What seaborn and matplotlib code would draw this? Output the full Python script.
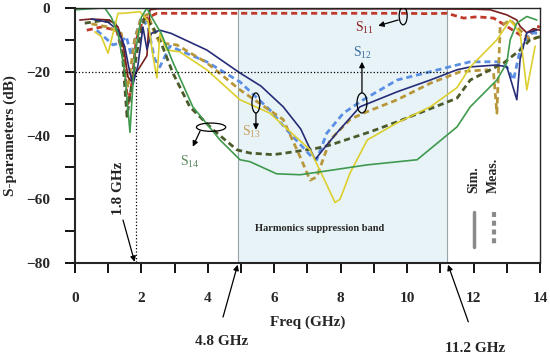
import numpy as np
import pandas as pd
import seaborn as sns
import matplotlib.pyplot as plt
from matplotlib.patches import Ellipse

# Data (frequency in GHz, magnitude in dB)
s11_sim_f = [0.15, 0.5, 1.05, 1.3, 1.45, 1.6, 1.7, 1.8, 1.96, 2.17, 2.26, 2.5, 4, 6, 8, 10, 12, 12.5, 13.0, 13.3, 13.4, 13.6, 13.8, 14.0]
s11_sim_db = [-3.8, -3.5, -3.8, -6, -11, -21.6, -23, -21, -18.5, -15, -0.6, -0.3, -0.3, -0.3, -0.3, -0.3, -0.4, -0.6, -2.2, -3.8, -5.8, -7.8, -6.5, -7]
s11_meas_f = [0.36, 0.8, 1.26, 1.45, 1.6, 1.7, 1.85, 2.05, 2.47, 4, 6, 8, 10, 10.5, 11.2, 11.7, 12.1, 12.6, 13.0, 13.3, 13.6, 13.9, 14.0]
s11_meas_db = [-7, -6, -7, -15, -30, -25, -10, -3.8, -1.7, -1.7, -1.7, -1.7, -1.7, -1.8, -1.7, -3.2, -2.8, -3.2, -5.8, -7.8, -10, -5.8, -6]

s12_sim_f = [0.5, 1.0, 1.3, 1.5, 1.65, 1.75, 1.9, 2.05, 2.17, 2.3, 2.56, 2.9, 3.97, 4.97, 5.6, 6.27, 6.8, 7.23, 7.5, 7.9, 8.58, 9.7, 10.7, 11.5, 11.9, 12.7, 13.0, 13.3, 13.4, 13.6, 13.9]
s12_sim_db = [-3.5, -4.5, -7, -12, -20, -24, -18, -6, -13, -8, -7, -8, -13.2, -20.4, -24.5, -31, -38, -47.6, -44, -39, -31, -26.3, -22.6, -19.4, -18.5, -17.9, -18.5, -28.8, -16, -7.8, -7]
s12_meas_f = [0.66, 1.15, 1.36, 1.55, 1.7, 1.85, 2.0, 2.2, 2.4, 2.56, 2.86, 3.97, 4.97, 5.87, 6.47, 7.13, 7.28, 7.58, 8.08, 8.68, 9.7, 10.7, 11.5, 11.9, 12.7, 13.0, 13.2, 13.4, 13.7, 14.0]
s12_meas_db = [-7, -11.6, -11, -9, -15, -8, -3, -6, -16, -18.5, -12, -16.9, -23.2, -32, -39.3, -46.7, -47.6, -39.3, -33, -28.8, -22.6, -20, -17.9, -16.9, -16.9, -18.5, -22.6, -13, -7.8, -8]

s13_sim_f = [0.6, 0.8, 1.0, 1.15, 1.3, 1.45, 1.96, 2.2, 2.35, 2.47, 2.56, 2.77, 3.16, 3.97, 4.97, 5.87, 7.08, 7.47, 7.83, 7.98, 8.28, 8.8, 9.7, 10.7, 11.5, 11.9, 12.7, 13.1, 13.4, 13.6, 13.85]
s13_sim_db = [-7.5, -9, -14.2, -8, -1.7, -1.7, -1.2, -4, -15, -22, -8, -13.2, -13.8, -19.4, -28.8, -33, -44.5, -53, -61, -60, -51.8, -41.4, -36, -31, -25, -18.5, -10, -3.8, -8, -25.7, -12]
s13_meas_f = [0.5, 1.0, 1.4, 1.6, 1.8, 2.0, 2.2, 2.4, 2.56, 3.07, 3.97, 4.97, 6.27, 6.78, 7.08, 7.28, 7.68, 8.28, 8.68, 9.7, 10.7, 11.6, 12.4, 12.6, 12.7, 12.8, 13.1, 13.4, 13.7, 14.0]
s13_meas_db = [-5, -6, -8, -25, -10, -3, -2, -8, -11, -11.6, -17.2, -25.7, -35, -46.7, -54, -53, -41.4, -35, -33, -28.8, -23.6, -20, -19.4, -20.4, -33, -5.8, -3.8, -7, -10, -9]

s14_sim_f = [0, 0.9, 1.1, 1.3, 1.5, 1.66, 1.8, 2.0, 2.17, 2.26, 2.6, 2.95, 3.55, 4.37, 4.97, 5.27, 6.07, 6.78, 7.77, 8.8, 10.3, 11.5, 11.9, 12.7, 13.0, 13.1, 13.3, 13.6, 13.9]
s14_sim_db = [-0.6, 0, -3, -8, -20, -39, -15, -3, 0, -2, -8, -17, -31, -41.4, -47.6, -48.2, -52, -52.3, -50.8, -49.2, -47.6, -37.3, -31, -22.6, -17.2, -10, -4.8, -2.7, -3.8]
s14_meas_f = [0.3, 0.8, 1.2, 1.4, 1.57, 1.7, 1.9, 2.1, 2.35, 2.56, 2.95, 3.46, 4.16, 4.88, 5.27, 5.96, 6.27, 7.28, 7.68, 8.9, 9.7, 11.5, 11.9, 12.9, 13.4, 13.7, 14.0]
s14_meas_db = [-4.8, -4, -4.5, -10, -34, -25, -12, -3, -6, -10, -20.4, -31, -38.2, -44.5, -45.5, -46, -45.6, -44, -43, -38.8, -35.7, -28.3, -22.6, -17.3, -13.2, -10, -9]

sim = pd.concat([
    pd.DataFrame({'freq': s11_sim_f, 'db': s11_sim_db, 'curve': 'S11'}),
    pd.DataFrame({'freq': s12_sim_f, 'db': s12_sim_db, 'curve': 'S12'}),
    pd.DataFrame({'freq': s13_sim_f, 'db': s13_sim_db, 'curve': 'S13'}),
    pd.DataFrame({'freq': s14_sim_f, 'db': s14_sim_db, 'curve': 'S14'}),
])
meas = pd.concat([
    pd.DataFrame({'freq': s11_meas_f, 'db': s11_meas_db, 'curve': 'S11'}),
    pd.DataFrame({'freq': s12_meas_f, 'db': s12_meas_db, 'curve': 'S12'}),
    pd.DataFrame({'freq': s13_meas_f, 'db': s13_meas_db, 'curve': 'S13'}),
    pd.DataFrame({'freq': s14_meas_f, 'db': s14_meas_db, 'curve': 'S14'}),
])

sim_colors = {'S11': '#7a1f1f', 'S12': '#262c78', 'S13': '#dccf2e', 'S14': '#3f9a4e'}
meas_colors = {'S11': '#c0392b', 'S12': '#5b8fe3', 'S13': '#b8963a', 'S14': '#4b5a2a'}

sns.set_style('ticks')
plt.rcParams['font.family'] = ['Liberation Serif', 'DejaVu Serif']
plt.rcParams['mathtext.default'] = 'regular'

fig, ax = plt.subplots(figsize=(5.5, 3.58), dpi=100)
fig.subplots_adjust(left=0.136, right=0.982, bottom=0.265, top=0.978)

# harmonics suppression band
ax.axvspan(4.9, 11.2, color='#e8f3f8', zorder=0)
ax.axvline(4.9, color='#9aa4a6', lw=0.8, zorder=0.5)
ax.axvline(11.2, color='#9aa4a6', lw=0.8, zorder=0.5)

sns.lineplot(data=meas, x='freq', y='db', hue='curve', palette=meas_colors,
             sort=False, estimator=None, legend=False, lw=2.0,
             linestyle=(0, (2.2, 1.4)), ax=ax)
sns.lineplot(data=sim, x='freq', y='db', hue='curve', palette=sim_colors,
             sort=False, estimator=None, legend=False, lw=1.2, ax=ax)

# guide lines
ax.plot([0, 11.2], [-20, -20], color='black', lw=0.9, ls=':')
ax.plot([1.85, 1.85], [-20, -80], color='black', lw=0.9, ls=':')

ax.set_xlim(0, 14)
ax.set_ylim(-80, 0)
ax.set_xticks(range(0, 15, 2))
ax.set_xticks(range(1, 15, 2), minor=True)
ax.set_yticks(range(-80, 1, 20))
ax.set_yticks(range(-70, 0, 20), minor=True)
ax.tick_params(which='both', direction='out', length=7, width=1.3, color='black')
ax.tick_params(axis='x', pad=14, labelsize=11)
ax.tick_params(axis='y', pad=11, labelsize=11)
for lab in ax.get_xticklabels() + ax.get_yticklabels():
    lab.set_fontweight('bold')
for side in ['left', 'bottom']:
    ax.spines[side].set_linewidth(1.5)
for side in ['top', 'right']:
    ax.spines[side].set_linewidth(1.0)

ax.set_xlabel('Freq (GHz)', fontsize=11, fontweight='bold', labelpad=7)
ax.set_ylabel('S-parameters (dB)', fontsize=11, fontweight='bold', labelpad=6)

ax.text(7.38, -69.3, 'Harmonics suppression band', fontsize=7.5, fontweight='bold',
        ha='center', va='center')

# Sim./Meas. key
ax.text(12.0, -58, 'Sim.', rotation=90, fontsize=10, fontweight='bold', ha='center', va='bottom')
ax.text(12.6, -58, 'Meas.', rotation=90, fontsize=10, fontweight='bold', ha='center', va='bottom')
ax.plot([12.0, 12.0], [-64, -75], color='#8a8a8a', lw=2.5)
ax.plot([12.6, 12.6], [-64, -75], color='#8a8a8a', lw=3, ls=(0, (1.2, 0.9)))

# frequency markers
arrow = dict(arrowstyle='-|>', color='black', lw=0.9, mutation_scale=8, shrinkA=0, shrinkB=0)
ax.text(1.3, -56.5, '1.8 GHz', rotation=90, fontsize=11, fontweight='bold',
        ha='center', va='center')
ax.annotate('', xy=(1.8, -79.6), xytext=(1.45, -66.5), arrowprops=arrow,
            annotation_clip=False)
ax.text(4.43, -104.7, '4.8 GHz', fontsize=11, fontweight='bold', ha='center', va='center',
        clip_on=False)
ax.annotate('', xy=(4.9, -80.5), xytext=(4.46, -96.9), arrowprops=arrow,
            annotation_clip=False)
ax.text(12.05, -106.6, '11.2 GHz', fontsize=11, fontweight='bold', ha='center', va='center',
        clip_on=False)
ax.annotate('', xy=(11.23, -80.5), xytext=(11.84, -98.4), arrowprops=arrow,
            annotation_clip=False)

# curve labels with ellipses
labels = [
    ('S$_{11}$', (8.73, -6.3), '#8b2020', (9.88, -2.5), 0.24, 5.6, (9.73, -3.8), (9.13, -5.6)),
    ('S$_{12}$', (8.67, -14.1), '#3b6ea0', (8.64, -29.8), 0.3, 6.3, (8.64, -26.6), (8.64, -16.9)),
    ('S$_{13}$', (5.33, -38.9), '#c8a060', (5.45, -29.8), 0.24, 6.3, (5.45, -33.0), (5.45, -38.2)),
    ('S$_{14}$', (3.46, -48.3), '#5d8a60', (4.1, -37.4), 0.88, 2.6, (3.77, -38.6), (3.55, -43.5)),
]
for txt, pos, col, ec, w, h, a0, a1 in labels:
    ax.text(pos[0], pos[1], txt, color=col, fontsize=10, ha='center', va='center')
    ax.add_patch(Ellipse(ec, w, h, fill=False, edgecolor='black', lw=0.9, zorder=5))
    ax.annotate('', xy=a1, xytext=a0, arrowprops=arrow)

fig.savefig('out.png', dpi=100)
